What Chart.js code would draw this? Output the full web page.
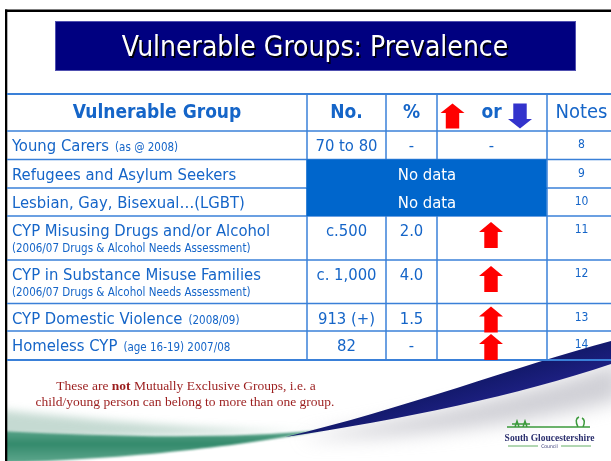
<!DOCTYPE html>
<html>
<head>
<meta charset="utf-8">
<script src="https://cdn.jsdelivr.net/npm/chart.js@4"></script>
<style>
html, body { margin: 0; padding: 0; background: #fff; overflow: hidden; }
canvas { display: block; }
</style>
</head>
<body>
<canvas id="slideChart" width="611" height="461"></canvas>
<script>
var title = 'Vulnerable Groups: Prevalence';
var headers = ['Vulnerable Group', 'No.', '%', 'or', 'Notes'];
var groups = ['Young Carers', 'Refugees and Asylum Seekers', 'Lesbian, Gay, Bisexual\u2026(LGBT)',
  'CYP Misusing Drugs and/or Alcohol', 'CYP in Substance Misuse Families', 'CYP Domestic Violence', 'Homeless CYP'];
var groupSources = ['(as @ 2008)', '', '', '(2006/07 Drugs & Alcohol Needs Assessment)',
  '(2006/07 Drugs & Alcohol Needs Assessment)', '(2008/09)', '(age 16-19) 2007/08'];
var sourceBelow = [false, false, false, true, true, false, false];
var counts = ['70 to 80', null, null, 'c.500', 'c. 1,000', '913 (+)', '82'];
var percents = ['-', null, null, '2.0', '4.0', '1.5', '-'];
var trends = ['-', null, null, 'up', 'up', 'up', 'up'];
var noteRefs = ['8', '9', '10', '11', '12', '13', '14'];
var noDataText = 'No data';
var footLine1 = ['These are ', 'not', ' Mutually Exclusive Groups, i.e. a'];
var footLine2 = 'child/young person can belong to more than one group.';
var logoName = 'South Gloucestershire';
var logoSub = 'Council';

// layout of the slide (pixels in scale units)
var colX = [7, 307, 386, 437, 547, 616];
var rowY = [94, 131, 159.5, 188, 216, 260, 303.5, 331, 360];

var SANS = '"DejaVu Sans Condensed", "DejaVu Sans", sans-serif';
var SERIF = '"Liberation Serif", "Times New Roman", serif';
var TEXT_BLUE = '#1565c8';
var LINE_BLUE = '#3a80d8';

function drawText(ctx, s, x, y, font, color, align) {
  ctx.font = font;
  ctx.fillStyle = color;
  ctx.textAlign = align || 'left';
  ctx.textBaseline = 'alphabetic';
  ctx.fillText(s, x, y);
}

function arrow(ctx, cx, top, w, h, color, down) {
  var head = h * 0.38, shaft = w * 0.56;
  ctx.fillStyle = color;
  ctx.beginPath();
  if (!down) {
    ctx.moveTo(cx, top);
    ctx.lineTo(cx + w / 2, top + head);
    ctx.lineTo(cx + shaft / 2, top + head);
    ctx.lineTo(cx + shaft / 2, top + h);
    ctx.lineTo(cx - shaft / 2, top + h);
    ctx.lineTo(cx - shaft / 2, top + head);
    ctx.lineTo(cx - w / 2, top + head);
  } else {
    ctx.moveTo(cx, top + h);
    ctx.lineTo(cx + w / 2, top + h - head);
    ctx.lineTo(cx + shaft / 2, top + h - head);
    ctx.lineTo(cx + shaft / 2, top);
    ctx.lineTo(cx - shaft / 2, top);
    ctx.lineTo(cx - shaft / 2, top + h - head);
    ctx.lineTo(cx - w / 2, top + h - head);
  }
  ctx.closePath();
  ctx.fill();
}

var slidePlugin = {
  id: 'slide',
  afterDraw: function (chart) {
    var ctx = chart.ctx;
    var sx = chart.scales.x, sy = chart.scales.y;
    function X(v) { return sx.getPixelForValue(v); }
    function Y(v) { return sy.getPixelForValue(v); }
    ctx.save();

    // background decoration, kept inside the slide frame
    ctx.save();
    ctx.beginPath();
    ctx.rect(X(7), Y(12), X(611) - X(7), Y(461) - Y(12));
    ctx.clip();

    // soft grey shadow under the blue swoosh
    ctx.save();
    ctx.filter = 'blur(9px)';
    ctx.fillStyle = 'rgba(170,170,180,0.55)';
    ctx.beginPath();
    ctx.moveTo(X(620), Y(362));
    ctx.bezierCurveTo(X(520), Y(395), X(400), Y(420), X(300), Y(438));
    ctx.bezierCurveTo(X(400), Y(440), X(520), Y(425), X(620), Y(400));
    ctx.closePath();
    ctx.fill();
    ctx.restore();

    // green swoosh
    ctx.save();
    ctx.filter = 'blur(4px)';
    ctx.fillStyle = 'rgba(90,150,125,0.35)';
    ctx.beginPath();
    ctx.moveTo(X(0), Y(410));
    ctx.bezierCurveTo(X(100), Y(420), X(220), Y(432), X(320), Y(431));
    ctx.lineTo(X(0), Y(440));
    ctx.closePath();
    ctx.fill();
    ctx.restore();

    var g = ctx.createLinearGradient(0, Y(430), 0, Y(461));
    g.addColorStop(0, '#5aa48a');
    g.addColorStop(0.45, '#348a6c');
    g.addColorStop(1, '#5aa48a');
    ctx.save();
    ctx.filter = 'blur(1px)';
    ctx.fillStyle = g;
    ctx.beginPath();
    ctx.moveTo(X(0), Y(431));
    ctx.bezierCurveTo(X(100), Y(436), X(220), Y(440), X(325), Y(430));
    ctx.bezierCurveTo(X(250), Y(444), X(150), Y(458), X(0), Y(463));
    ctx.closePath();
    ctx.fill();
    ctx.restore();

    // blue swoosh
    g = ctx.createLinearGradient(X(470), Y(385), X(478), Y(412));
    g.addColorStop(0, '#141a6e');
    g.addColorStop(0.7, '#1c1f80');
    g.addColorStop(1, '#6a5cb0');
    ctx.fillStyle = g;
    ctx.beginPath();
    ctx.moveTo(X(611), Y(341));
    ctx.bezierCurveTo(X(520), Y(365), X(400), Y(410), X(285), Y(437));
    ctx.bezierCurveTo(X(400), Y(420), X(520), Y(395), X(611), Y(364));
    ctx.closePath();
    ctx.fill();
    ctx.restore();

    // frame
    ctx.fillStyle = '#000';
    ctx.fillRect(X(5), Y(9.5), X(611) - X(5), 2.5);
    ctx.fillRect(X(5), Y(9.5), 2.3, Y(461) - Y(9.5));

    // title bar
    ctx.fillStyle = '#000080';
    ctx.fillRect(X(55), Y(21), X(576) - X(55), Y(71) - Y(21));
    ctx.strokeStyle = '#5050b0';
    ctx.lineWidth = 1;
    ctx.strokeRect(X(55) + 0.5, Y(21) + 0.5, X(576) - X(55) - 1, Y(71) - Y(21) - 1);
    ctx.save();
    ctx.shadowColor = 'rgba(0,0,0,0.95)';
    ctx.shadowOffsetX = 1.5;
    ctx.shadowOffsetY = 1.5;
    drawText(ctx, title, X(315), Y(56), '28px ' + SANS, '#fff', 'center');
    ctx.restore();

    // table grid
    ctx.strokeStyle = LINE_BLUE;
    rowY.forEach(function (y, i) {
      ctx.lineWidth = (i === 0 || i === rowY.length - 1) ? 2 : 1.5;
      ctx.beginPath();
      ctx.moveTo(X(7), Y(y));
      ctx.lineTo(X(611), Y(y));
      ctx.stroke();
    });
    ctx.lineWidth = 1.5;
    colX.slice(1, 5).forEach(function (x) {
      ctx.beginPath();
      ctx.moveTo(X(x), Y(rowY[0]));
      ctx.lineTo(X(x), Y(rowY[rowY.length - 1]));
      ctx.stroke();
    });

    // header
    var hb = Y(117.5);
    drawText(ctx, headers[0], X((colX[0] + colX[1]) / 2), hb, 'bold 19px ' + SANS, TEXT_BLUE, 'center');
    drawText(ctx, headers[1], X((colX[1] + colX[2]) / 2), hb, 'bold 19px ' + SANS, TEXT_BLUE, 'center');
    drawText(ctx, headers[2], X((colX[2] + colX[3]) / 2), hb, 'bold 19px ' + SANS, TEXT_BLUE, 'center');
    drawText(ctx, headers[3], X(491.5), hb, 'bold 19px ' + SANS, TEXT_BLUE, 'center');
    drawText(ctx, headers[4], X(581.5), hb, '20px ' + SANS, TEXT_BLUE, 'center');
    arrow(ctx, X(452.5), Y(103.5), 24, 25, '#ff0000', false);
    arrow(ctx, X(520), Y(103.5), 24, 25, '#3333cc', true);

    // rows
    groups.forEach(function (name, i) {
      var top = rowY[i + 1], bottom = rowY[i + 2];
      var base = Y(top + 20);
      var f = '16.5px ' + SANS;
      drawText(ctx, name, X(12), base, f, TEXT_BLUE);
      if (groupSources[i]) {
        if (sourceBelow[i]) {
          drawText(ctx, groupSources[i], X(12), Y(top + 36), '11.5px ' + SANS, TEXT_BLUE);
        } else {
          ctx.font = f;
          var w = ctx.measureText(name).width;
          drawText(ctx, groupSources[i], X(12) + w + 6, base, '11.5px ' + SANS, TEXT_BLUE);
        }
      }
      if (counts[i] === null) {
        ctx.fillStyle = '#0066cc';
        ctx.fillRect(X(colX[1]) - 0.5, Y(top), X(colX[4]) - X(colX[1]), Y(bottom) - Y(top) + (counts[i + 1] === null ? 1 : 0));
        drawText(ctx, noDataText, X((colX[1] + colX[4]) / 2), base, '16.5px ' + SANS, '#fff', 'center');
      } else {
        drawText(ctx, counts[i], X((colX[1] + colX[2]) / 2), base, f, TEXT_BLUE, 'center');
        drawText(ctx, percents[i], X((colX[2] + colX[3]) / 2), base, f, TEXT_BLUE, 'center');
        if (trends[i] === 'up') {
          var off = sourceBelow[i] ? 6 : 3;
          arrow(ctx, X(491), Y(top + off), 24, 26, '#ff0000', false);
        } else {
          drawText(ctx, trends[i], X(491.5), base, f, TEXT_BLUE, 'center');
        }
      }
      drawText(ctx, noteRefs[i], X(581.5), Y(top + 17), '12px ' + SANS, TEXT_BLUE, 'center');
    });

    // footnote
    var fb = '13.5px ' + SERIF, fbb = 'bold 13.5px ' + SERIF;
    ctx.font = fb;
    var w1 = ctx.measureText(footLine1[0]).width + ctx.measureText(footLine1[2]).width;
    ctx.font = fbb;
    w1 += ctx.measureText(footLine1[1]).width;
    var fx = X(186) - w1 / 2;
    var red = '#9b1d1d';
    drawText(ctx, footLine1[0], fx, Y(390), fb, red);
    ctx.font = fb; fx += ctx.measureText(footLine1[0]).width;
    drawText(ctx, footLine1[1], fx, Y(390), fbb, red);
    ctx.font = fbb; fx += ctx.measureText(footLine1[1]).width;
    drawText(ctx, footLine1[2], fx, Y(390), fb, red);
    drawText(ctx, footLine2, X(185), Y(405.5), fb, red, 'center');

    // logo
    ctx.strokeStyle = '#3c9a3c';
    ctx.lineWidth = 1.5;
    ctx.beginPath();
    ctx.moveTo(X(507), Y(427)); ctx.lineTo(X(590), Y(427));
    ctx.moveTo(X(515), Y(427)); ctx.lineTo(X(517), Y(421)); ctx.lineTo(X(519), Y(427));
    ctx.moveTo(X(523), Y(427)); ctx.lineTo(X(525), Y(421)); ctx.lineTo(X(527), Y(427));
    ctx.moveTo(X(512), Y(424)); ctx.lineTo(X(530), Y(424));
    ctx.moveTo(X(578), Y(427)); ctx.quadraticCurveTo(X(574), Y(419), X(579), Y(417));
    ctx.moveTo(X(583), Y(427)); ctx.quadraticCurveTo(X(586), Y(420), X(582), Y(418));
    ctx.stroke();
    drawText(ctx, logoName, X(549.5), Y(440.5), 'bold 9.5px ' + SERIF, '#2b2f6e', 'center');
    drawText(ctx, logoSub, X(549.5), Y(448), '5px ' + SANS, '#2b2f6e', 'center');
    ctx.strokeStyle = '#3c9a3c';
    ctx.lineWidth = 0.8;
    ctx.beginPath();
    ctx.moveTo(X(508), Y(446)); ctx.lineTo(X(538), Y(446));
    ctx.moveTo(X(561), Y(446)); ctx.lineTo(X(591), Y(446));
    ctx.stroke();

    ctx.restore();
  }
};

var slideChart = new Chart(document.getElementById('slideChart'), {
  type: 'scatter',
  data: { datasets: [] },
  options: {
    responsive: false,
    animation: false,
    layout: { padding: 0 },
    plugins: { legend: { display: false }, tooltip: { enabled: false } },
    scales: {
      x: { type: 'linear', min: 0, max: 611, display: false },
      y: { type: 'linear', min: 0, max: 461, reverse: true, display: false }
    }
  },
  plugins: [slidePlugin]
});
</script>
</body>
</html>
